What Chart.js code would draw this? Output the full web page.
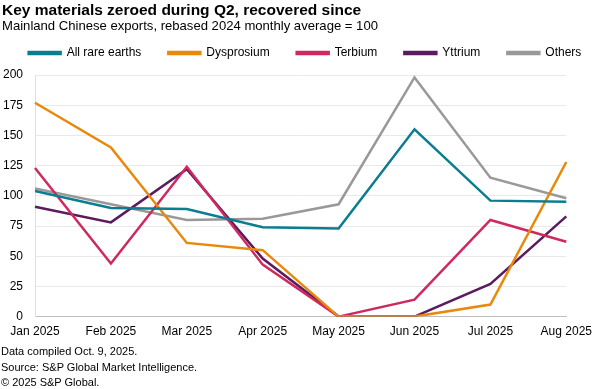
<!DOCTYPE html>
<html>
<head>
<meta charset="utf-8">
<script src="https://cdn.jsdelivr.net/npm/chart.js@4"></script>
<style>
  html, body { margin: 0; padding: 0; background: #fff; }
  body { width: 600px; height: 389px; position: relative; overflow: hidden;
         font-family: Arial, "Liberation Sans", sans-serif; color: #000; }
  #chartBox { position: absolute; left: 0; top: 0; width: 600px; height: 389px; }
  .txt { position: absolute; left: 2px; white-space: nowrap; }
  #title { top: 1px; font-size: 15.5px; font-weight: bold; }
  #subtitle { top: 18px; font-size: 13.1px; }
  .note { font-size: 11px; left: 1px; }
</style>
</head>
<body>
<div id="chartBox"><canvas id="myChart" width="600" height="389"></canvas></div>
<div class="txt" id="title">Key materials zeroed during Q2, recovered since</div>
<div class="txt" id="subtitle">Mainland Chinese exports, rebased 2024 monthly average = 100</div>
<div class="txt note" style="top:345px">Data compiled Oct. 9, 2025.</div>
<div class="txt note" style="top:361px">Source: S&amp;P Global Market Intelligence.</div>
<div class="txt note" style="top:376px">© 2025 S&amp;P Global.</div>
<script>
// --- DATA ---
const months = ["Jan 2025", "Feb 2025", "Mar 2025", "Apr 2025", "May 2025", "Jun 2025", "Jul 2025", "Aug 2025"];
const allRareEarths = [104, 90, 89, 74, 73, 155, 96, 95];
const dysprosium = [177, 140, 61, 55, 0, 0, 10, 128];
const terbium = [123, 44, 124, 43, 0, 14, 80, 62];
const yttrium = [91, 78, 122, 48, 0, 0, 27, 83];
const others = [106, 93, 80, 81, 93, 198, 115, 98];
const yTicks = [0, 25, 50, 75, 100, 125, 150, 175, 200];
// ------------

const mkLine = (label, values, color) => ({
  label: label,
  data: values,
  borderColor: color,
  backgroundColor: color,
  borderWidth: 2.5,
  pointRadius: 0,
  tension: 0,
});

// nudge the legend up a bit so there is a gap above the plot
const legendNudge = {
  id: "legendNudge",
  afterLayout(chart) {
    chart.legend.top -= 6;
    chart.legend.bottom -= 6;
  },
};

const ctx = document.getElementById("myChart");

const myLineChart = new Chart(ctx, {
  type: "line",
  data: {
    labels: months,
    datasets: [
      mkLine("All rare earths", allRareEarths, "#0a7d8f"),
      mkLine("Dysprosium", dysprosium, "#e8890c"),
      mkLine("Terbium", terbium, "#cf2a5f"),
      mkLine("Yttrium", yttrium, "#5a1c5e"),
      mkLine("Others", others, "#999999"),
    ],
  },
  options: {
    responsive: false,
    animation: false,
    // negative side padding gives the legend room for wide spacing
    layout: { padding: { left: -20, right: -30, top: 26, bottom: 42 } },
    plugins: {
      tooltip: { enabled: false },
      legend: {
        position: "top",
        labels: {
          boxWidth: 32,
          boxHeight: 2,
          padding: 27,
          color: "#000",
          font: { family: "Arial, 'Liberation Sans'", size: 12 },
        },
      },
    },
    scales: {
      x: {
        grid: { display: false, drawTicks: false },
        border: { display: true, color: "#bfbfbf", width: 1 },
        ticks: {
          color: "#000",
          padding: 8,
          maxRotation: 0,
          autoSkip: false,
          font: { family: "Arial, 'Liberation Sans'", size: 12 },
        },
      },
      y: {
        min: 0,
        max: 200,
        afterBuildTicks: (axis) => { axis.ticks = yTicks.map((v) => ({ value: v })); },
        afterFit: (axis) => { axis.width = 55; },
        grid: { color: "#e9e9e9", drawTicks: false },
        border: { display: true, color: "#e0e0e0", width: 1 },
        ticks: {
          color: "#000",
          padding: 12,
          font: { family: "Arial, 'Liberation Sans'", size: 12 },
        },
      },
    },
  },
  plugins: [legendNudge],
});
</script>
</body>
</html>
